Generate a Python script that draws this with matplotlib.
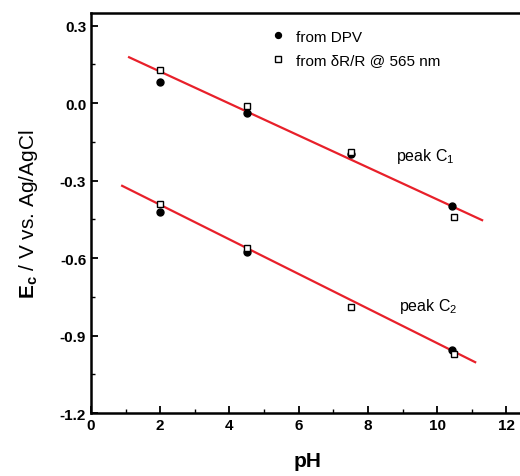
import numpy as np
import matplotlib
matplotlib.use("Agg")
import matplotlib.pyplot as plt
from matplotlib.ticker import MultipleLocator

plt.rcParams['font.family'] = ['Liberation Sans', 'DejaVu Sans']
plt.rcParams['mathtext.fontset'] = 'custom'
plt.rcParams['mathtext.rm'] = 'Liberation Sans'
plt.rcParams['mathtext.bf'] = 'Liberation Sans:bold'

# peak C1
ph_dpv_c1 = [2.0, 4.5, 7.5, 10.43]
e_dpv_c1 = [0.081, -0.039, -0.195, -0.40]
ph_opt_c1 = [2.0, 4.5, 7.5, 10.5]
e_opt_c1 = [0.13, -0.01, -0.19, -0.44]

# peak C2
ph_dpv_c2 = [2.0, 4.5, 10.43]
e_dpv_c2 = [-0.42, -0.577, -0.955]
ph_opt_c2 = [2.0, 4.5, 7.5, 10.5]
e_opt_c2 = [-0.39, -0.56, -0.79, -0.97]

# linear fits (end points)
fit_x_c1 = [1.1, 11.3]
fit_y_c1 = [0.178, -0.453]
fit_x_c2 = [0.9, 11.1]
fit_y_c2 = [-0.32, -1.003]

fig = plt.figure(figsize=(5.2, 4.77), dpi=100)
ax = fig.add_axes([0.175, 0.132, 0.832, 0.839])

ax.plot(fit_x_c1, fit_y_c1, color='#e8202a', lw=1.6, zorder=2)
ax.plot(fit_x_c2, fit_y_c2, color='#e8202a', lw=1.6, zorder=2)

ax.plot(ph_dpv_c1, e_dpv_c1, 'o', color='black', ms=5, zorder=3, label='from DPV')
ax.plot(ph_dpv_c2, e_dpv_c2, 'o', color='black', ms=5, zorder=3)
ax.plot(ph_opt_c1, e_opt_c1, 's', mfc='white', mec='black', mew=1.0, ms=4.8, zorder=4,
        label='from \u03b4R/R @ 565 nm')
ax.plot(ph_opt_c2, e_opt_c2, 's', mfc='white', mec='black', mew=1.0, ms=4.8, zorder=4)

ax.text(8.8, -0.22, 'peak C$_1$', fontsize=11.5)
ax.text(8.9, -0.80, 'peak C$_2$', fontsize=11.5)

ax.set_xlim(0, 12.5)
ax.set_ylim(-1.2, 0.35)
ax.xaxis.set_major_locator(MultipleLocator(2))
ax.xaxis.set_minor_locator(MultipleLocator(1))
ax.yaxis.set_minor_locator(MultipleLocator(0.15))
ax.set_yticks(np.arange(-1.2, 0.31, 0.3))
ax.set_yticklabels(['-1.2', '-0.9', '-0.6', '-0.3', '0.0', '0.3'])

ax.tick_params(which='major', direction='in', length=5, width=1.3, labelsize=11)
ax.tick_params(which='minor', direction='in', length=3, width=1.0)
for lab in ax.get_xticklabels() + ax.get_yticklabels():
    lab.set_fontweight('bold')
for s in ax.spines.values():
    s.set_linewidth(1.8)

ax.set_xlabel('pH', fontsize=15, fontweight='bold', labelpad=14)
ax.set_ylabel('$\\mathbf{E_c}$ / V vs. Ag/AgCl', fontsize=15, labelpad=14)

ax.legend(loc='upper left', bbox_to_anchor=(0.39, 0.985), frameon=False, fontsize=11,
          handletextpad=0.7, borderaxespad=0.3, labelspacing=0.65, handlelength=1.0,
          markerscale=0.85)

fig.savefig('out.png', dpi=100)
